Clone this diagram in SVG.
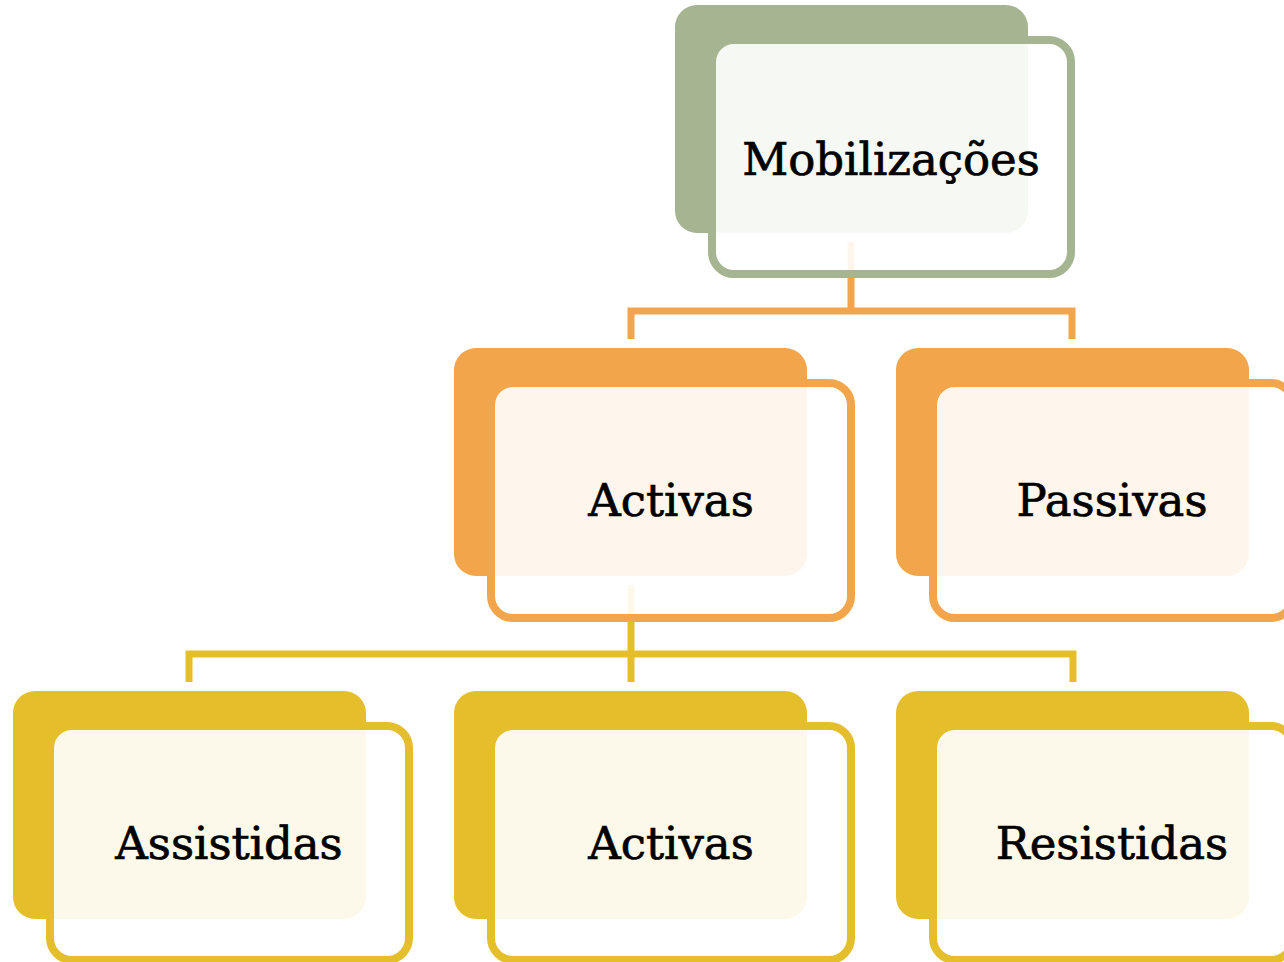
<svg xmlns="http://www.w3.org/2000/svg" width="1284" height="962" viewBox="0 0 1284 962">
<style>
.back{stroke:none}
.front{fill:#ffffff;fill-opacity:0.9;stroke-width:8}
.g .front{stroke:#A5B592}
.o .front{stroke:#F2A54A}
.y .front{stroke:#E5BE2C}
.lbl{font-family:"DejaVu Serif","Liberation Serif",serif;font-size:45px;fill:#000;stroke:#000;stroke-width:0.7;text-anchor:middle}
.c1{fill:none;stroke:#F2A54A;stroke-width:7}
.c2{fill:none;stroke:#E5BE2C;stroke-width:7}
</style>
<rect width="1284" height="962" fill="#ffffff"/>
<g id="back-layer">
<rect class="back" x="675" y="5" width="353" height="228" rx="22" fill="#A5B592"/>
<rect class="back" x="454" y="348" width="353" height="228" rx="22" fill="#F2A54A"/>
<rect class="back" x="896" y="348" width="353" height="228" rx="22" fill="#F2A54A"/>
<rect class="back" x="13" y="691" width="353" height="228" rx="22" fill="#E5BE2C"/>
<rect class="back" x="454" y="691" width="353" height="228" rx="22" fill="#E5BE2C"/>
<rect class="back" x="896" y="691" width="353" height="228" rx="22" fill="#E5BE2C"/>
</g>
<g id="connectors">
<path class="c1" d="M851,242 V311 M631,339 V311 H1072 V339"/>
<path class="c2" d="M631,585 V682 M189,682 V654 H1073 V682"/>
</g>
<g id="node-mobilizacoes" class="g">
<rect class="front" x="712" y="40" width="359" height="234" rx="22"/>
<text class="lbl" x="891" y="175">Mobilizações</text>
</g>
<g id="node-activas-1" class="o">
<rect class="front" x="491" y="383" width="360" height="235" rx="22"/>
<text class="lbl" x="671" y="516">Activas</text>
</g>
<g id="node-passivas" class="o">
<rect class="front" x="933" y="383" width="360" height="235" rx="22"/>
<text class="lbl" x="1112" y="516">Passivas</text>
</g>
<g id="node-assistidas" class="y">
<rect class="front" x="50" y="726" width="359" height="234" rx="22"/>
<text class="lbl" x="229" y="859">Assistidas</text>
</g>
<g id="node-activas-2" class="y">
<rect class="front" x="491" y="726" width="360" height="234" rx="22"/>
<text class="lbl" x="671" y="859">Activas</text>
</g>
<g id="node-resistidas" class="y">
<rect class="front" x="933" y="726" width="360" height="234" rx="22"/>
<text class="lbl" x="1112" y="859">Resistidas</text>
</g>
</svg>
